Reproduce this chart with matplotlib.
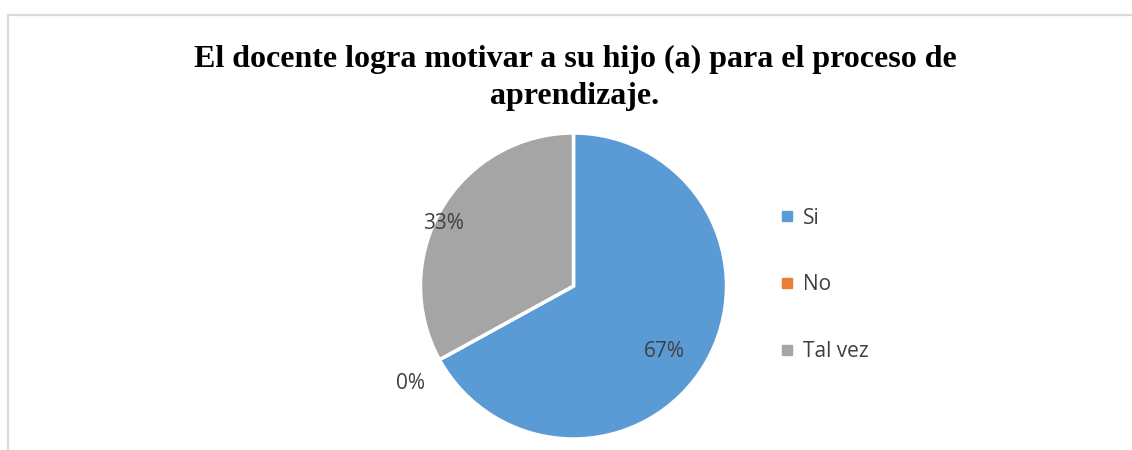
import numpy as np
import matplotlib.pyplot as plt
from matplotlib.lines import Line2D
from matplotlib.patches import Rectangle

categorias = ["Si", "No", "Tal vez"]
valores = [67, 0, 33]
colores = ["#5B9BD5", "#ED7D31", "#A5A5A5"]
titulo = "El docente logra motivar a su hijo (a) para el proceso de\naprendizaje."

# distance et angle des etiquettes (facon "best fit" d'Excel)
dist_etiq = [0.73, 1.24, 0.94]
decal_angle = [-5, 2, 5]

W, H = 1132, 450
fig = plt.figure(figsize=(W / 100, H / 100), dpi=100)

# cadre gris du graphique
fig.patches.append(Rectangle((8 / W, -0.1), 1.2, (H - 15) / H + 0.1, transform=fig.transFigure,
                             fill=False, edgecolor="#D9D9D9", linewidth=1.6))

cx, cy, r = 573.5, 286, 153
ax = fig.add_axes([(cx - r) / W, (H - cy - r) / H, 2 * r / W, 2 * r / H])
wedges, _ = ax.pie(valores, colors=colores, startangle=90, counterclock=False,
                   wedgeprops=dict(edgecolor="white", linewidth=2.5), radius=1)
ax.set_xlim(-1, 1)
ax.set_ylim(-1, 1)
ax.set_aspect("equal")

total = sum(valores)
debut = 90
for v, d, da in zip(valores, dist_etiq, decal_angle):
    milieu = debut - v / total * 360 / 2 + da
    a = np.deg2rad(milieu)
    ax.text(d * np.cos(a), d * np.sin(a), f"{v}%", ha="center", va="center",
            fontsize=15, color="#404040", family="Open Sans")
    debut -= v / total * 360

fig.text(575 / W, 1 - 78 / H, titulo, ha="center", va="center", fontsize=23,
         fontweight="bold", family="Liberation Serif", linespacing=1.36)

poignees = [Line2D([], [], marker="s", linestyle="", markersize=6.5, color=c) for c in colores]
fig.legend(poignees, categorias, loc="center left", bbox_to_anchor=(781 / W, 1 - 285 / H),
           frameon=False, labelspacing=2.2, handletextpad=0.45, borderpad=0, borderaxespad=0,
           handlelength=0.6, labelcolor="#404040", prop={"family": "Open Sans", "size": 15})

fig.savefig("out.png", dpi=100)
